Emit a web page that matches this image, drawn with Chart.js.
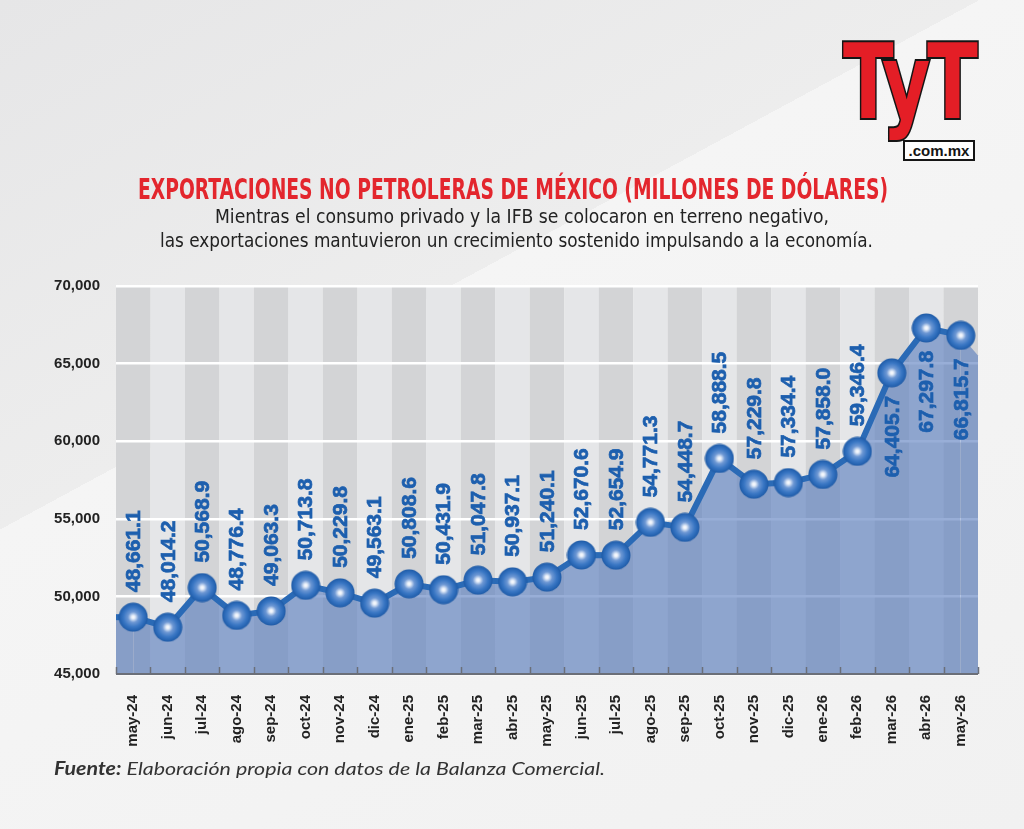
<!DOCTYPE html>
<html lang="es">
<head>
<meta charset="utf-8">
<title>Exportaciones no petroleras de México</title>
<script src="https://cdn.jsdelivr.net/npm/chart.js@4.4.1/dist/chart.umd.min.js"></script>
<style>
  html, body { margin: 0; padding: 0; }
  body {
    width: 1024px; height: 829px; overflow: hidden; position: relative;
    background: linear-gradient(151.6deg, #e6e6e7 0%, #ededed 38.3%, #f5f5f5 38.3%, #f1f1f1 100%);
    font-family: "Liberation Sans", Arial, sans-serif;
  }
  #grafica { position: absolute; left: 0; top: 0; }
  .fit { position: absolute; white-space: nowrap; transform-origin: 0 0; line-height: 1; }
  #titulo { color: #e3262d; font-family: "Liberation Sans Narrow", "DejaVu Sans Condensed", "Liberation Sans", sans-serif; font-weight: bold; font-size: 29px; }
  .sub { color: #222; font-family: "Liberation Sans Narrow", "DejaVu Sans Condensed", "Liberation Sans", sans-serif; font-size: 20px; }
  #fuente { color: #333; font-family: Lato, "Open Sans", sans-serif; font-style: italic; font-size: 18px; }
  #fuente b { font-weight: bold; }
  #logo { color: #e41e26; font-family: "DejaVu Sans", "Liberation Sans", sans-serif; font-weight: bold; font-size: 104px;
    -webkit-text-stroke: 4px #151515; paint-order: stroke fill; letter-spacing: -4px; }
  #dominio { position: absolute; left: 903px; top: 140px; width: 72px; height: 21px; background: #fff; border: 2px solid #151515;
    box-sizing: border-box; font: bold 15px "Liberation Sans", Arial, sans-serif; color: #151515; text-align: center; line-height: 17px; }
</style>
</head>
<body>
<canvas id="grafica" width="1024" height="829"></canvas>

<div id="logo" class="fit" data-x="843" data-y="30" data-w="132">TyT</div>
<div id="dominio">.com.mx</div>

<div id="titulo" class="fit" data-x="138" data-y="175" data-w="750">EXPORTACIONES NO PETROLERAS DE MÉXICO (MILLONES DE DÓLARES)</div>
<div class="sub fit" data-x="215" data-y="206" data-w="614">Mientras el consumo privado y la IFB se colocaron en terreno negativo,</div>
<div class="sub fit" data-x="160" data-y="230" data-w="713">las exportaciones mantuvieron un crecimiento sostenido impulsando a la economía.</div>
<div id="fuente" class="fit" data-x="54" data-y="759" data-w="551"><b>Fuente:</b> Elaboración propia con datos de la Balanza Comercial.</div>

<script>
// datos
var meses = ['may-24', 'jun-24', 'jul-24', 'ago-24', 'sep-24', 'oct-24', 'nov-24', 'dic-24',
  'ene-25', 'feb-25', 'mar-25', 'abr-25', 'may-25', 'jun-25', 'jul-25', 'ago-25', 'sep-25',
  'oct-25', 'nov-25', 'dic-25', 'ene-26', 'feb-26', 'mar-26', 'abr-26', 'may-26'];
var exportaciones = [48661.1, 48014.2, 50568.9, 48776.4, 49063.3, 50713.8, 50229.8, 49563.1,
  50808.6, 50431.9, 51047.8, 50937.1, 51240.1, 52670.6, 52654.9, 54771.3, 54448.7,
  58888.5, 57229.8, 57334.4, 57858.0, 59346.4, 64405.7, 67297.8, 66815.7];
var ticksY = [45000, 50000, 55000, 60000, 65000, 70000];

var linea = '#2a6ab6';
var relleno = 'rgba(88, 124, 190, 0.62)';
var fuenteEjes = '"Liberation Sans", Arial, sans-serif';

// ajusta el ancho de los textos html
function ajustar() {
  document.querySelectorAll('.fit').forEach(function (el) {
    el.style.transform = 'none';
    el.style.left = el.dataset.x + 'px';
    el.style.top = el.dataset.y + 'px';
    var w = el.getBoundingClientRect().width;
    el.style.transform = 'scaleX(' + (el.dataset.w / w) + ')';
  });
}
ajustar();
if (document.fonts) document.fonts.ready.then(ajustar);

function formato(v) {
  return v.toLocaleString('en-US', { minimumFractionDigits: 1, maximumFractionDigits: 1 });
}

// bolita con brillo para cada punto
function esfera(d) {
  var c = document.createElement('canvas');
  c.width = d; c.height = d;
  var g = c.getContext('2d');
  var r = d / 2;
  var grad = g.createRadialGradient(r, r, 0, r, r, r);
  grad.addColorStop(0, '#ffffff');
  grad.addColorStop(0.12, '#e4ecf8');
  grad.addColorStop(0.35, '#6e98d4');
  grad.addColorStop(0.65, '#3a77c4');
  grad.addColorStop(0.88, '#2563b1');
  grad.addColorStop(1, '#1c569f');
  g.fillStyle = grad;
  g.beginPath();
  g.arc(r, r, r - 0.5, 0, Math.PI * 2);
  g.fill();
  return c;
}

var franjas = {
  id: 'franjas',
  beforeDraw: function (chart) {
    var ctx = chart.ctx, a = chart.chartArea, x = chart.scales.x;
    var paso = x.width / meses.length;
    ctx.save();
    for (var i = 0; i < meses.length; i++) {
      var cx = x.getPixelForValue(i);
      ctx.fillStyle = i % 2 === 0 ? '#d3d4d6' : '#e5e6e8';
      ctx.fillRect(cx - paso / 2, a.top, paso, a.bottom - a.top);
    }
    ctx.restore();
  }
};

var extremos = {
  id: 'extremos',
  beforeDatasetsDraw: function (chart) {
    var ctx = chart.ctx, a = chart.chartArea;
    var pts = chart.getDatasetMeta(0).data;
    var p0 = pts[0], pn = pts[pts.length - 1];
    ctx.save();
    ctx.fillStyle = relleno;
    ctx.beginPath();
    ctx.moveTo(a.left, p0.y);
    ctx.lineTo(p0.x, p0.y);
    ctx.lineTo(p0.x, a.bottom);
    ctx.lineTo(a.left, a.bottom);
    ctx.closePath();
    ctx.fill();
    ctx.beginPath();
    ctx.moveTo(pn.x, pn.y);
    ctx.lineTo(a.right, pn.y + 20);
    ctx.lineTo(a.right, a.bottom);
    ctx.lineTo(pn.x, a.bottom);
    ctx.closePath();
    ctx.fill();
    ctx.strokeStyle = linea;
    ctx.lineWidth = 6;
    ctx.beginPath();
    ctx.moveTo(a.left, p0.y);
    ctx.lineTo(p0.x, p0.y);
    ctx.stroke();
    ctx.restore();
  },
  afterDatasetsDraw: function (chart) {
    var ctx = chart.ctx, a = chart.chartArea, x = chart.scales.x;
    var paso = x.width / meses.length;
    ctx.save();
    // eje inferior y marcas
    ctx.strokeStyle = '#6b6f78';
    ctx.lineWidth = 2;
    ctx.beginPath();
    ctx.moveTo(a.left, a.bottom);
    ctx.lineTo(a.right, a.bottom);
    ctx.stroke();
    ctx.lineWidth = 1.5;
    for (var i = 0; i <= meses.length; i++) {
      var bx = Math.round(a.left + i * paso) + 0.5;
      ctx.beginPath();
      ctx.moveTo(bx, a.bottom);
      ctx.lineTo(bx, a.bottom - 7);
      ctx.stroke();
    }
    // etiquetas de valores
    var pts = chart.getDatasetMeta(0).data;
    ctx.font = 'bold 21px ' + fuenteEjes;
    ctx.fillStyle = '#1d5fae';
    ctx.strokeStyle = '#1d5fae';
    ctx.lineWidth = 0.7;
    ctx.textBaseline = 'middle';
    pts.forEach(function (p, i) {
      var txt = formato(exportaciones[i]);
      var w = ctx.measureText(txt).width;
      ctx.save();
      ctx.translate(p.x + 1, p.y);
      ctx.rotate(-Math.PI / 2);
      if (p.y - 25 - w < a.top) {
        ctx.textAlign = 'right';
        ctx.fillText(txt, -23, 0);
        ctx.strokeText(txt, -23, 0);
      } else {
        ctx.textAlign = 'left';
        ctx.fillText(txt, 25, 0);
        ctx.strokeText(txt, 25, 0);
      }
      ctx.restore();
    });
    ctx.restore();
  }
};

new Chart(document.getElementById('grafica'), {
  type: 'line',
  data: {
    labels: meses,
    datasets: [{
      data: exportaciones,
      borderColor: linea,
      borderWidth: 6,
      borderJoinStyle: 'round',
      backgroundColor: relleno,
      fill: 'start',
      tension: 0,
      pointStyle: esfera(30),
      pointRadius: 15,
      pointHoverRadius: 15
    }]
  },
  options: {
    responsive: false,
    animation: false,
    layout: { padding: { top: 286, right: 46, bottom: 0, left: 0 } },
    plugins: {
      legend: { display: false },
      tooltip: { enabled: false }
    },
    scales: {
      x: {
        offset: true,
        grid: { display: false },
        border: { display: false },
        ticks: {
          autoSkip: false,
          minRotation: 90,
          maxRotation: 90,
          padding: 13,
          color: '#222222',
          font: { family: fuenteEjes, weight: 'bold', size: 15 }
        },
        afterFit: function (s) { s.height = 155; }
      },
      y: {
        min: ticksY[0],
        max: ticksY[ticksY.length - 1],
        grid: { color: '#ffffff', lineWidth: 2.5, drawTicks: false },
        border: { display: false },
        ticks: {
          stepSize: ticksY[1] - ticksY[0],
          padding: 16,
          color: '#222222',
          font: { family: fuenteEjes, weight: 'bold', size: 15 },
          callback: function (v) { return v.toLocaleString('en-US'); }
        },
        afterFit: function (s) { s.width = 116; }
      }
    }
  },
  plugins: [franjas, extremos]
});
</script>
</body>
</html>
